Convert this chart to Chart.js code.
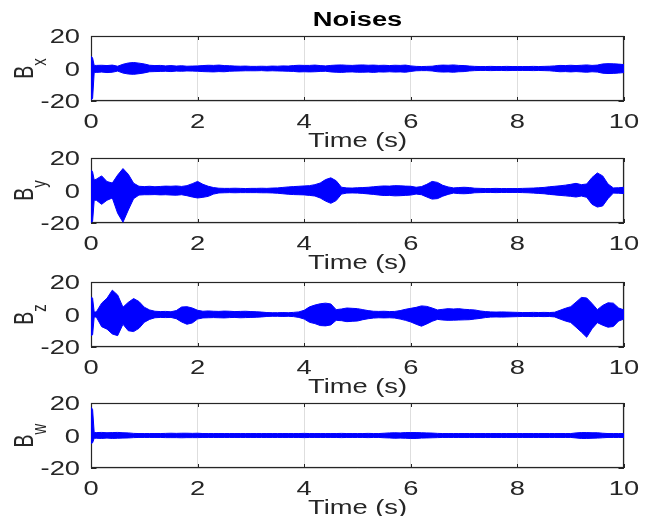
<!DOCTYPE html>
<html>
<head>
<meta charset="utf-8">
<script src="https://cdn.jsdelivr.net/npm/chart.js@4/dist/chart.umd.min.js"></script>
<style>
    body { margin: 0; background: #fff; }
    #fig { position: relative; width: 653px; height: 516px; overflow: hidden; }
    #fig canvas { position: absolute; left: 0; }
</style>
</head>
<body>
<div id="fig">
    <canvas id="panelX" width="653" height="160" style="top:0px"></canvas>
    <canvas id="panelY" width="653" height="160" style="top:122px"></canvas>
    <canvas id="panelZ" width="653" height="160" style="top:246px"></canvas>
    <canvas id="panelW" width="653" height="160" style="top:367px"></canvas>
</div>
<script>
// sample times (s) and the upper / lower envelope of each noise channel
const time = [0, 0.03, 0.06,
    0.1, 0.2, 0.3, 0.4, 0.5, 0.6, 0.7, 0.8, 0.9, 1.0,
    1.1, 1.2, 1.3, 1.4, 1.5, 1.6, 1.7, 1.8, 1.9, 2.0,
    2.1, 2.2, 2.3, 2.4, 2.5, 2.6, 2.7, 2.8, 2.9, 3.0,
    3.1, 3.2, 3.3, 3.4, 3.5, 3.6, 3.7, 3.8, 3.9, 4.0,
    4.1, 4.2, 4.3, 4.4, 4.5, 4.6, 4.7, 4.8, 4.9, 5.0,
    5.1, 5.2, 5.3, 5.4, 5.5, 5.6, 5.7, 5.8, 5.9, 6.0,
    6.1, 6.2, 6.3, 6.4, 6.5, 6.6, 6.7, 6.8, 6.9, 7.0,
    7.1, 7.2, 7.3, 7.4, 7.5, 7.6, 7.7, 7.8, 7.9, 8.0,
    8.1, 8.2, 8.3, 8.4, 8.5, 8.6, 8.7, 8.8, 8.9, 9.0,
    9.1, 9.2, 9.3, 9.4, 9.5, 9.6, 9.7, 9.8, 9.9, 10.0];

const bxUpper = [7.6, 6.5, 1.9,
    1.9, 2.0, 1.8, 2.1, 1.4, 2.6, 3.4, 3.7, 3.3, 2.8,
    2.0, 1.8, 1.9, 1.6, 1.8, 1.5, 1.7, 1.4, 1.5, 1.6,
    1.8, 2.0, 1.9, 2.1, 1.8, 1.7, 1.5, 1.4, 1.5, 1.3,
    1.3, 1.4, 1.3, 1.5, 1.4, 1.6, 1.5, 1.8, 2.0, 1.9,
    1.9, 2.1, 1.8, 1.6, 1.9, 2.1, 2.2, 2.0, 1.9, 2.1,
    2.2, 2.0, 2.1, 1.9, 2.0, 1.8, 2.0, 1.9, 2.1, 1.6,
    1.3, 1.2, 1.3, 1.4, 1.9, 2.1, 2.0, 2.2, 1.9, 1.8,
    1.5, 1.3, 1.2, 1.2, 1.3, 1.2, 1.2, 1.3, 1.2, 1.2,
    1.2, 1.2, 1.3, 1.2, 1.3, 1.4, 1.6, 1.9, 1.8, 2.0,
    1.8, 2.0, 2.2, 1.9, 2.1, 2.8, 3.0, 2.9, 2.7, 2.4];
const bxLower = [-19.2, -18.5, -2.4,
    -2.4, -2.2, -2.5, -2.3, -1.6, -2.8, -3.4, -3.6, -3.2, -2.7,
    -2.0, -1.9, -1.8, -1.7, -1.9, -1.6, -1.7, -1.5, -1.6, -1.7,
    -1.9, -2.0, -2.1, -1.9, -2.0, -1.7, -1.6, -1.5, -1.4, -1.4,
    -1.4, -1.3, -1.5, -1.4, -1.5, -1.6, -1.7, -1.8, -2.1, -2.0,
    -2.1, -2.0, -1.8, -1.7, -2.1, -2.3, -2.4, -2.2, -2.1, -2.3,
    -2.3, -2.2, -2.4, -2.1, -2.2, -2.0, -2.2, -2.1, -2.3, -1.8,
    -1.4, -1.3, -1.3, -1.5, -2.0, -2.2, -2.1, -2.3, -2.0, -1.9,
    -1.5, -1.3, -1.2, -1.2, -1.3, -1.2, -1.2, -1.3, -1.2, -1.2,
    -1.2, -1.2, -1.3, -1.2, -1.3, -1.4, -1.7, -2.0, -1.9, -2.1,
    -1.9, -2.1, -2.3, -2.0, -2.2, -2.9, -3.1, -3.0, -2.8, -2.5];

const byUpper = [12.8, 11.5, 6.5,
    7.0, 9.0, 5.5, 4.6, 9.5, 13.5, 10.0, 4.5, 2.6, 2.4,
    2.6, 2.3, 2.5, 2.7, 2.6, 2.8, 2.5, 3.0, 4.2, 5.6,
    3.8, 2.6, 1.8, 1.4, 1.3, 1.3, 1.4, 1.3, 1.2, 1.3,
    1.3, 1.4, 1.3, 1.5, 1.6, 1.9, 2.2, 2.4, 2.6, 2.8,
    3.0, 3.6, 4.6, 6.7, 7.8, 6.0, 2.0, 1.6, 1.5, 1.7,
    1.8, 2.0, 2.3, 2.6, 2.8, 2.7, 3.0, 2.9, 2.7, 2.6,
    2.0, 2.4, 3.8, 5.6, 5.0, 3.2, 2.2, 1.6, 1.8, 2.0,
    1.8, 1.4, 1.3, 1.2, 1.2, 1.3, 1.2, 1.2, 1.2, 1.2,
    1.3, 1.4, 1.5, 1.7, 1.9, 2.3, 2.6, 2.9, 3.3, 3.8,
    4.4, 3.6, 4.0, 8.0, 10.8, 9.0, 4.0, 1.6, 1.7, 2.0];
const byLower = [-19.6, -19.0, -6.0,
    -6.0, -8.5, -6.0, -4.6, -14.0, -19.5, -12.0, -5.0, -2.8, -2.6,
    -2.6, -2.5, -2.7, -2.6, -2.8, -2.9, -2.6, -3.2, -4.0, -4.6,
    -4.2, -3.6, -2.2, -1.5, -1.4, -1.3, -1.4, -1.3, -1.3, -1.3,
    -1.3, -1.4, -1.4, -1.5, -1.7, -2.0, -2.3, -2.5, -2.6, -2.7,
    -3.0, -3.4, -4.6, -6.5, -7.9, -6.2, -2.2, -1.6, -1.5, -1.6,
    -1.8, -2.1, -2.4, -2.8, -3.1, -3.0, -3.3, -3.2, -3.0, -2.8,
    -2.2, -2.6, -4.0, -5.3, -5.0, -3.5, -2.4, -1.6, -1.9, -2.0,
    -1.8, -1.4, -1.3, -1.2, -1.2, -1.3, -1.2, -1.2, -1.2, -1.2,
    -1.3, -1.4, -1.6, -1.8, -2.0, -2.4, -2.7, -3.0, -3.3, -3.6,
    -4.0, -3.4, -4.2, -8.5, -10.2, -9.5, -5.0, -1.6, -1.7, -1.9];

const bzUpper = [11.0, 10.0, 1.5,
    1.6, 7.0, 10.0, 15.0, 12.0, 4.5, 7.5, 9.8, 8.0, 4.5,
    2.8, 2.0, 1.8, 1.9, 1.7, 2.4, 4.6, 4.8, 4.0, 2.6,
    2.0, 2.2, 2.0, 1.9, 2.1, 2.0, 1.8, 1.9, 2.0, 1.8,
    1.7, 1.5, 1.2, 1.1, 1.1, 1.2, 1.1, 1.3, 1.6, 2.6,
    4.7, 5.8, 6.6, 7.0, 6.5, 3.0, 3.4, 4.0, 3.8, 3.6,
    3.0, 2.4, 2.0, 1.9, 2.0, 1.8, 1.9, 2.4, 3.2, 3.8,
    4.4, 5.3, 5.0, 4.0, 2.8, 3.2, 3.6, 3.4, 3.6, 3.2,
    3.0, 2.8, 2.2, 1.8, 1.6, 1.5, 1.6, 1.5, 1.4, 1.3,
    1.2, 1.2, 1.3, 1.2, 1.3, 1.2, 1.4, 2.6, 3.8, 4.8,
    7.6, 10.5, 10.2, 6.8, 3.0, 5.6, 7.2, 7.0, 4.0, 2.8];
const bzLower = [-13.0, -12.5, -1.5,
    -1.6, -7.5, -9.0, -12.0, -13.0, -6.0, -10.0, -10.5, -8.5, -4.8,
    -3.0, -2.0, -1.8, -1.9, -1.8, -2.6, -4.6, -6.0, -5.2, -2.8,
    -2.1, -2.0, -1.9, -2.0, -2.1, -1.9, -1.8, -2.0, -1.9, -1.8,
    -1.7, -1.5, -1.2, -1.1, -1.1, -1.2, -1.1, -1.3, -1.8, -2.8,
    -4.8, -5.6, -6.8, -7.0, -6.4, -3.6, -3.8, -4.4, -4.2, -4.0,
    -3.2, -2.6, -2.2, -2.0, -2.1, -2.0, -2.2, -2.8, -3.6, -4.6,
    -6.0, -7.2, -5.8, -4.2, -3.0, -3.4, -3.6, -3.5, -3.4, -3.3,
    -3.2, -2.8, -2.4, -1.9, -1.6, -1.5, -1.6, -1.5, -1.4, -1.3,
    -1.2, -1.2, -1.3, -1.2, -1.3, -1.2, -1.5, -2.8, -4.0, -4.9,
    -7.8, -10.8, -14.0, -8.8, -5.0, -6.6, -7.8, -7.4, -4.0, -2.8];

const bwUpper = [17.4, 16.0, 1.8,
    1.8, 1.9, 1.7, 1.8, 1.9, 1.7, 1.6, 1.3, 1.2, 1.2,
    1.2, 1.2, 1.2, 1.3, 1.4, 1.3, 1.4, 1.4, 1.3, 1.4,
    1.2, 1.2, 1.2, 1.2, 1.2, 1.2, 1.2, 1.2, 1.2, 1.2,
    1.2, 1.2, 1.2, 1.2, 1.2, 1.2, 1.2, 1.2, 1.2, 1.3,
    1.2, 1.2, 1.2, 1.2, 1.2, 1.2, 1.3, 1.2, 1.2, 1.2,
    1.2, 1.3, 1.2, 1.2, 1.4, 1.6, 1.7, 1.6, 1.8, 1.8,
    1.8, 1.7, 1.6, 1.5, 1.3, 1.2, 1.2, 1.2, 1.2, 1.2,
    1.2, 1.2, 1.2, 1.2, 1.2, 1.2, 1.2, 1.2, 1.2, 1.2,
    1.2, 1.2, 1.2, 1.2, 1.2, 1.2, 1.2, 1.2, 1.2, 1.2,
    1.6, 1.8, 1.8, 1.7, 1.7, 1.4, 1.2, 1.2, 1.2, 1.2];
const bwLower = [-4.9, -4.5, -1.7,
    -1.7, -1.8, -1.6, -1.8, -1.7, -1.6, -1.5, -1.3, -1.2, -1.2,
    -1.2, -1.2, -1.2, -1.3, -1.3, -1.3, -1.4, -1.3, -1.3, -1.3,
    -1.2, -1.2, -1.2, -1.2, -1.2, -1.2, -1.2, -1.2, -1.2, -1.2,
    -1.2, -1.2, -1.2, -1.2, -1.2, -1.2, -1.2, -1.2, -1.2, -1.3,
    -1.2, -1.2, -1.2, -1.2, -1.2, -1.2, -1.3, -1.2, -1.2, -1.2,
    -1.2, -1.3, -1.2, -1.2, -1.4, -1.5, -1.7, -1.6, -1.7, -1.8,
    -1.8, -1.6, -1.5, -1.4, -1.3, -1.2, -1.2, -1.2, -1.2, -1.2,
    -1.2, -1.2, -1.2, -1.2, -1.2, -1.2, -1.2, -1.2, -1.2, -1.2,
    -1.2, -1.2, -1.2, -1.2, -1.2, -1.2, -1.2, -1.2, -1.2, -1.2,
    -1.5, -1.8, -1.8, -1.7, -1.6, -1.4, -1.2, -1.2, -1.2, -1.2];

const xTicks = [0, 2, 4, 6, 8, 10];
const yTicks = [-20, 0, 20];

const STRETCH = 1.4;          // figure was exported wider than tall
const AXIS_COLOR = '#262626';
const FONT = '"Liberation Sans", Arial, sans-serif';

function wideText(ctx, text, x, y, align, font, color) {
    ctx.save();
    ctx.translate(x, y);
    ctx.scale(STRETCH, 1);
    ctx.font = font;
    ctx.fillStyle = color;
    ctx.textAlign = align;
    ctx.textBaseline = 'alphabetic';
    ctx.fillText(text, 0, 0);
    ctx.restore();
}

// box, inward ticks and all axis text in the style of the original figure
const boxAxes = {
    id: 'boxAxes',
    beforeDatasetsDraw(chart) {
        const ctx = chart.ctx;
        const a = chart.chartArea;
        const xs = chart.scales.x, ys = chart.scales.y;
        ctx.save();
        ctx.strokeStyle = AXIS_COLOR;
        ctx.lineWidth = 1;
        ctx.beginPath();
        xTicks.forEach(v => {
            const px = Math.round(xs.getPixelForValue(v)) + 0.5;
            ctx.moveTo(px, a.top); ctx.lineTo(px, a.top + 4);
            ctx.moveTo(px, a.bottom); ctx.lineTo(px, a.bottom - 4);
        });
        yTicks.forEach(v => {
            const py = Math.round(ys.getPixelForValue(v)) + 0.5;
            ctx.moveTo(a.left, py); ctx.lineTo(a.left + 5.5, py);
            ctx.moveTo(a.right, py); ctx.lineTo(a.right - 5.5, py);
        });
        ctx.stroke();
        ctx.lineWidth = 1.2;
        ctx.strokeRect(a.left + 0.5, a.top + 0.5, a.right - a.left - 1, a.bottom - a.top - 1);
        ctx.restore();
    },
    afterDraw(chart, args, opts) {
        const ctx = chart.ctx;
        const a = chart.chartArea;
        const xs = chart.scales.x, ys = chart.scales.y;
        const tickFont = '19.5px ' + FONT;
        xTicks.forEach(v => {
            wideText(ctx, String(v), xs.getPixelForValue(v), a.bottom + 27, 'center', tickFont, AXIS_COLOR);
        });
        yTicks.forEach(v => {
            wideText(ctx, String(v), a.left - 11, ys.getPixelForValue(v) + 7, 'right', tickFont, AXIS_COLOR);
        });
        const midX = (a.left + a.right) / 2;
        wideText(ctx, 'Time (s)', midX, a.bottom + 46, 'center', tickFont, AXIS_COLOR);
        if (opts.title) {
            wideText(ctx, opts.title, midX, a.top - 10, 'center', 'bold 19.5px ' + FONT, '#000');
        }

        // rotated y label with a subscript
        const mainFont = '19.5px ' + FONT, subFont = '15px ' + FONT;
        ctx.save();
        ctx.font = mainFont;
        const w1 = ctx.measureText('B').width;
        ctx.font = subFont;
        const w2 = ctx.measureText(opts.sub).width;
        const midY = (a.top + a.bottom) / 2;
        ctx.translate(33, midY + (w1 + w2) / 2);
        ctx.scale(STRETCH, 1);
        ctx.rotate(-Math.PI / 2);
        ctx.fillStyle = AXIS_COLOR;
        ctx.textAlign = 'left';
        ctx.textBaseline = 'alphabetic';
        ctx.font = mainFont;
        ctx.fillText('B', 0, 0);
        ctx.font = subFont;
        ctx.fillText(opts.sub, w1, 9);
        ctx.restore();
    }
};

function makePanel(canvasId, upper, lower, sub, title) {
    const ctx = document.getElementById(canvasId).getContext('2d');
    return new Chart(ctx, {
        type: 'line',
        data: {
            datasets: [{
                data: time.map((t, i) => ({ x: t, y: upper[i] })),
                borderColor: '#0000ff',
                backgroundColor: '#0000ff',
                borderWidth: 1,
                pointRadius: 0,
                fill: '+1'
            }, {
                data: time.map((t, i) => ({ x: t, y: lower[i] })),
                borderColor: '#0000ff',
                borderWidth: 1,
                pointRadius: 0,
                fill: false
            }]
        },
        options: {
            responsive: false,
            animation: false,
            devicePixelRatio: 1,
            layout: { padding: { top: 36, right: 29, left: 0, bottom: 0 } },
            scales: {
                x: {
                    type: 'linear',
                    min: 0,
                    max: 10,
                    afterFit: scale => { scale.height = 59; },
                    ticks: { stepSize: 2, display: false },
                    grid: { color: '#dedede', drawTicks: false },
                    border: { display: false }
                },
                y: {
                    min: -20,
                    max: 20,
                    afterFit: scale => { scale.width = 91; },
                    ticks: { stepSize: 20, display: false },
                    grid: { color: '#dedede', drawTicks: false },
                    border: { display: false }
                }
            },
            plugins: {
                legend: { display: false },
                tooltip: { enabled: false },
                boxAxes: { sub: sub, title: title }
            }
        },
        plugins: [boxAxes]
    });
}

makePanel('panelX', bxUpper, bxLower, 'x', 'Noises');
makePanel('panelY', byUpper, byLower, 'y', null);
makePanel('panelZ', bzUpper, bzLower, 'z', null);
makePanel('panelW', bwUpper, bwLower, 'w', null);
</script>
</body>
</html>
